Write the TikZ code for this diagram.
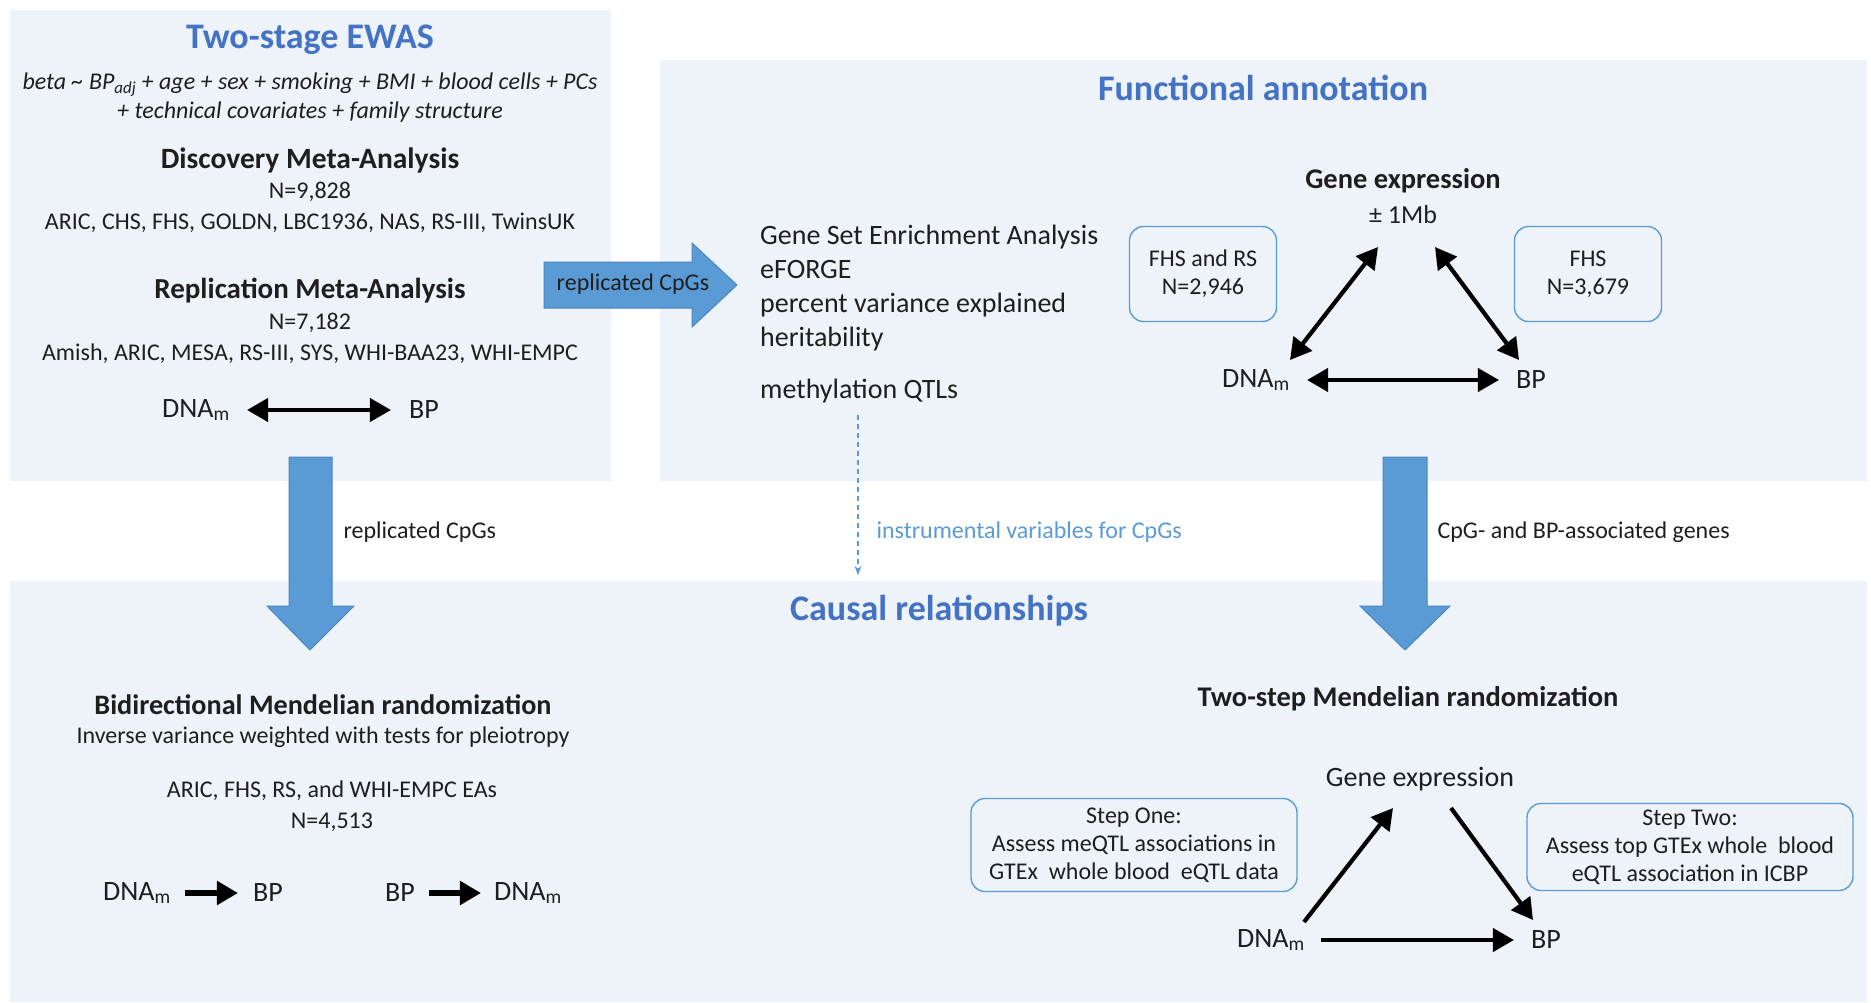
\documentclass[tikz,border=0pt]{standalone}
\usepackage{fontspec}
\setmainfont{Carlito}
\usetikzlibrary{arrows.meta,positioning,calc}
\definecolor{panelbg}{HTML}{EEF3FA}
\definecolor{headblue}{HTML}{4472C4}
\definecolor{boxblue}{HTML}{5B9BD5}
\definecolor{arrowblue}{HTML}{5B9BD5}
\definecolor{arrowedge}{HTML}{4A86C5}
\definecolor{ink}{HTML}{1E1E1E}
\tikzset{
  heading/.style={font=\bfseries\fontsize{36}{40}\selectfont,text=headblue},
  subhead/.style={font=\bfseries\fontsize{28.5}{32}\selectfont,text=ink},
  body/.style={font=\fontsize{24}{31}\selectfont,text=ink,align=center},
  formula/.style={font=\itshape\fontsize{24}{29}\selectfont,text=ink,align=center},
  listtext/.style={font=\fontsize{28}{34.3}\selectfont,text=ink,align=left,inner sep=0pt,anchor=west},
  var/.style={font=\fontsize{28}{32}\selectfont,text=ink,inner sep=3pt},
  flowlabel/.style={font=\fontsize{24}{28}\selectfont,text=ink,anchor=west},
  panel/.style={fill=panelbg},
  infobox/.style={draw=boxblue,line width=1.4pt,rounded corners=14pt,font=\fontsize{24}{28}\selectfont,text=ink,align=center},
  arrboth/.style={{Triangle[length=21pt,width=23pt]}-{Triangle[length=21pt,width=23pt]},line width=4.2pt,draw=black},
  arrone/.style={-{Triangle[length=21pt,width=23pt]},line width=4.2pt,draw=black},
  blockarrow/.style={fill=arrowblue,draw=arrowedge,line width=1pt},
  ivarrow/.style={-{Stealth[length=9pt,width=7pt]},draw=boxblue,line width=1.2pt,dash pattern=on 5pt off 4pt}
}

\begin{document}
\begin{tikzpicture}[x=1pt,y=-1pt]
\path[use as bounding box,fill=white] (0,0) rectangle (1871,1002);
% panels
\fill[panel] (10,10) rectangle (611,481);
\fill[panel] (660,60) rectangle (1867,481);
\fill[panel] (10,581) rectangle (1867,1002);

% block arrows between the panels
\draw[blockarrow] (544,262) -- (692,262) -- (692,243) -- (737,285) -- (692,327) -- (692,308) -- (544,308) -- cycle;
\draw[blockarrow] (289,457) -- (332,457) -- (332,606) -- (354,606) -- (310,650) -- (267,606) -- (289,606) -- cycle;
\draw[blockarrow] (1383,457) -- (1427,457) -- (1427,606) -- (1450,606) -- (1405,650) -- (1360,606) -- (1383,606) -- cycle;
\node[body] (repA) at (633,284) {replicated CpGs};
\node[flowlabel] (repB) at (340,532) {replicated CpGs};
\node[flowlabel] (assoc) at (1434,532) {CpG- and BP-associated genes};

% two-stage EWAS
\node[heading] (ewas) at (310,40) {Two-stage EWAS};
\node[formula] (model) at (310,98) {beta \textasciitilde{} BP\textsubscript{adj} + age + sex + smoking + BMI + blood cells + PCs\\+ technical covariates + family structure};
\node[subhead,font=\bfseries\fontsize{29.5}{32}\selectfont] (disc) at (310,160) {Discovery Meta-Analysis};
\node[body] (discN) at (310,207) {N=9,828\\ARIC, CHS, FHS, GOLDN, LBC1936, NAS, RS-III, TwinsUK};
\node[subhead,font=\bfseries\fontsize{29}{32}\selectfont] (repl) at (310,291) {Replication Meta-Analysis};
\node[body] (replN) at (310,338) {N=7,182\\Amish, ARIC, MESA, RS-III, SYS, WHI-BAA23, WHI-EMPC};
\node[var] (dnaA) at (196,410) {DNA\textsubscript{m}};
\node[var] (bpA) at (424,410) {BP};
\draw[arrboth,shorten <=14pt,shorten >=15pt] (dnaA) -- (bpA);

% functional annotation
\node[heading] (func) at (1263,88) {Functional annotation};
\node[listtext] (tools) at (760,288) {Gene Set Enrichment Analysis\\eFORGE\\percent variance explained\\heritability};
\node[listtext] (mqtl) at (760,391) {methylation QTLs};
\coordinate (ivEnd) at (858,575);
\draw[ivarrow] (mqtl.south -| ivEnd) ++(0,12) -- (ivEnd);
\node[flowlabel,text=boxblue] (ivlab) at (873,532) {instrumental variables for CpGs};
\node[subhead] (geneA) at (1403,181) {Gene expression};
\node[var,font=\fontsize{26}{30}\selectfont] (mbA) at (1403,215) {\textpm{} 1Mb};
\node[infobox,minimum width=147pt,minimum height=95pt] (fhsrs) at (1203,274) {FHS and RS\\N=2,946};
\node[infobox,minimum width=147pt,minimum height=95pt] (fhs) at (1588,274) {FHS\\N=3,679};
\node[var] (dnaB) at (1256,380) {DNA\textsubscript{m}};
\node[var] (bpB) at (1531,380) {BP};
\draw[arrboth,shorten <=14pt,shorten >=14pt] (dnaB) -- (bpB);
\draw[arrboth] ([shift={(34,-20)}]dnaB.center) -- ([shift={(-25,32)}]mbA.center);
\draw[arrboth] ([shift={(32,32)}]mbA.center) -- ([shift={(-12,-20)}]bpB.center);

% causal relationships
\node[heading] (causal) at (939,611) {Causal relationships};
\node[subhead,font=\bfseries\fontsize{28.2}{32}\selectfont] (bidir) at (323,705) {Bidirectional Mendelian randomization};
\node[body] (ivw) at (323,737) {Inverse variance weighted with tests for pleiotropy};
\node[body] (mrN) at (332,806) {ARIC, FHS, RS, and WHI-EMPC EAs\\N=4,513};
\node[var] (dnaC) at (137,893) {DNA\textsubscript{m}};
\node[var] (bpC) at (268,893) {BP};
\node[var] (bpD) at (400,893) {BP};
\node[var] (dnaD) at (528,893) {DNA\textsubscript{m}};
\draw[arrone,line width=5.5pt,shorten <=11pt,shorten >=12pt] (dnaC) -- (bpC);
\draw[arrone,line width=5.5pt,shorten <=11pt,shorten >=10pt] (bpD) -- (dnaD);

\node[subhead] (twostep) at (1408,699) {Two-step Mendelian randomization};
\node[var] (geneC) at (1420,779) {Gene expression};
\node[var] (dnaE) at (1271,940) {DNA\textsubscript{m}};
\node[var] (bpE) at (1546,940) {BP};
\draw[arrone,shorten <=13pt,shorten >=14pt] (dnaE) -- (bpE);
\draw[arrone] ([shift={(33,-18)}]dnaE.center) -- ([shift={(-27,29)}]geneC.center);
\draw[arrone] ([shift={(31,29)}]geneC.center) -- ([shift={(-13,-20)}]bpE.center);
\node[infobox,minimum width=326pt,minimum height=93pt] (stepone) at (1134,845) {Step One:\\Assess meQTL associations in\\GTEx\ \ whole blood\ \ eQTL data};
\node[infobox,minimum width=326pt,minimum height=87pt] (steptwo) at (1690,847) {Step Two:\\Assess top GTEx whole\ \ blood\\eQTL association in ICBP};
\end{tikzpicture}
\end{document}
